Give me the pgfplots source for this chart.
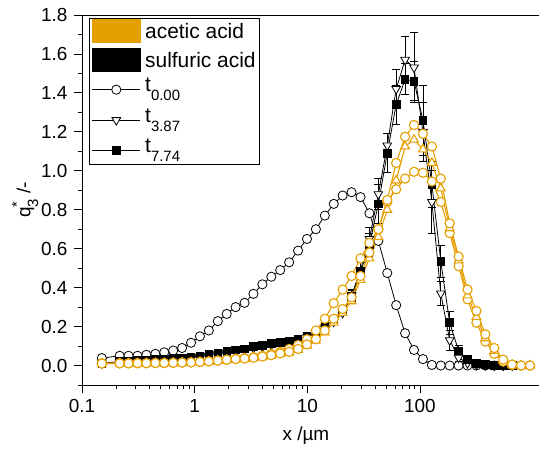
\documentclass[border=0pt]{standalone}
\usepackage{fontspec}
\setmainfont{Liberation Sans}
\usepackage{pgfplots}
\usepackage{pgfplotstable}
\pgfplotsset{compat=1.18}
\definecolor{acet}{RGB}{230,159,0}
\newcommand{\sub}[1]{\raisebox{-0.42em}{\fontsize{15}{15}\selectfont #1}}
\pgfplotsset{myerr/.style={error bars/y dir=both, error bars/y explicit,
 error bars/error bar style={line width=0.8bp},
 error bars/error mark options={rotate=90, mark size=4bp, line width=0.8bp}}}
\pgfplotstableread{
x y
0.150 0.038
0.216 0.050
0.259 0.050
0.311 0.050
0.373 0.055
0.448 0.060
0.537 0.068
0.645 0.077
0.774 0.090
0.929 0.117
1.114 0.150
1.337 0.180
1.605 0.228
1.926 0.265
2.311 0.300
2.773 0.322
3.328 0.368
3.993 0.417
4.792 0.456
5.750 0.490
6.900 0.530
8.280 0.590
9.936 0.650
11.92 0.700
14.31 0.770
17.17 0.830
20.60 0.873
24.72 0.890
29.67 0.865
35.60 0.782
42.72 0.640
51.27 0.475
61.52 0.310
73.82 0.166
88.59 0.080
106.3 0.033
127.6 0.003
153.1 0.000
183.7 0.000
220.4 0.000
264.5 0.000
317.4 0.000
380.9 0.000
457.1 0.000
548.5 0.000
}\Szero
\pgfplotstableread{
x y
0.150 0.012
0.216 0.012
0.259 0.012
0.311 0.012
0.373 0.012
0.448 0.013
0.537 0.013
0.645 0.014
0.774 0.015
0.929 0.017
1.114 0.019
1.337 0.022
1.605 0.026
1.926 0.030
2.311 0.034
2.773 0.038
3.328 0.043
3.993 0.050
4.792 0.060
5.750 0.070
6.900 0.085
8.280 0.105
9.936 0.135
11.92 0.180
14.31 0.240
17.17 0.320
20.60 0.390
24.72 0.460
29.67 0.550
35.60 0.630
42.72 0.700
51.27 0.840
61.52 0.905
73.82 0.960
88.59 0.995
106.3 0.990
127.6 0.945
153.1 0.840
183.7 0.680
220.4 0.510
264.5 0.340
317.4 0.220
380.9 0.123
457.1 0.060
548.5 0.020
658.2 0.003
789.8 0.000
947.8 0.000
}\Azero
\pgfplotstableread{
x y
0.150 0.010
0.216 0.011
0.259 0.011
0.311 0.011
0.373 0.012
0.448 0.012
0.537 0.013
0.645 0.014
0.774 0.015
0.929 0.016
1.114 0.018
1.337 0.020
1.605 0.024
1.926 0.028
2.311 0.032
2.773 0.035
3.328 0.038
3.993 0.044
4.792 0.050
5.750 0.060
6.900 0.067
8.280 0.080
9.936 0.103
11.92 0.128
14.31 0.170
17.17 0.220
20.60 0.270
24.72 0.330
29.67 0.440
35.60 0.550
42.72 0.660
51.27 0.800
61.52 0.950
73.82 1.125
88.59 1.160
106.3 1.110
127.6 1.040
153.1 0.910
183.7 0.705
220.4 0.540
264.5 0.360
317.4 0.250
380.9 0.140
457.1 0.075
548.5 0.025
658.2 0.003
789.8 0.000
947.8 0.000
}\Athree
\pgfplotstableread{
x y
0.150 0.010
0.216 0.011
0.259 0.011
0.311 0.012
0.373 0.012
0.448 0.013
0.537 0.013
0.645 0.014
0.774 0.015
0.929 0.016
1.114 0.018
1.337 0.021
1.605 0.025
1.926 0.030
2.311 0.033
2.773 0.036
3.328 0.040
3.993 0.046
4.792 0.053
5.750 0.062
6.900 0.070
8.280 0.085
9.936 0.108
11.92 0.135
14.31 0.180
17.17 0.240
20.60 0.290
24.72 0.350
29.67 0.460
35.60 0.580
42.72 0.700
51.27 0.850
61.52 1.040
73.82 1.175
88.59 1.235
106.3 1.190
127.6 1.125
153.1 0.960
183.7 0.730
220.4 0.560
264.5 0.390
317.4 0.280
380.9 0.160
457.1 0.090
548.5 0.030
658.2 0.005
789.8 0.000
947.8 0.000
}\Aseven
\begin{document}
\fontsize{19}{22}\selectfont
\begin{tikzpicture}
\begin{axis}[
 scale only axis, width=457bp, height=370bp,
 xmode=log, xmin=0.1, xmax=1140, ymin=-0.1, ymax=1.8,
 axis x line*=bottom, axis y line*=left,
 axis line style={-, line width=0.8bp},
 tick align=outside, major tick length=8bp, minor tick length=4bp,
 every tick/.style={black, line width=0.8bp},
 xtick={0.1,1,10,100}, xticklabels={0.1,1,10,100},
 ytick={0,0.2,0.4,0.6,0.8,1.0,1.2,1.4,1.6,1.8},
 yticklabels={0.0,0.2,0.4,0.6,0.8,1.0,1.2,1.4,1.6,1.8},
 minor ytick={-0.1,0.1,0.3,0.5,0.7,0.9,1.1,1.3,1.5,1.7},
 tick label style={font=\fontsize{19}{22}\selectfont},
 xlabel={x /µm}, ylabel={q\rlap{\raisebox{0.45em}{\fontsize{14.5}{15}\selectfont *}}\sub{3} /-},
 label style={font=\fontsize{20}{22}\selectfont},
 every axis x label/.style={at={(axis description cs:0.49,0)}, anchor=center, yshift=-51bp},
 every axis y label/.style={at={(axis description cs:-0.1245,0.5)}, anchor=center, rotate=90},
 clip=false,
 legend style={at={(axis description cs:0.0153,0.992)}, anchor=north west,
   draw=black, line width=0.8bp, inner xsep=2.5bp, inner ysep=1bp,
   font=\fontsize{21}{22}\selectfont, row sep=5bp,
   nodes={inner sep=1.5bp, text depth=}, cells={anchor=west}},
]
\draw[line width=0.8bp] (rel axis cs:0,1) -- (rel axis cs:1,1);
% legend entries
\addlegendimage{legend image code/.code={\fill[acet] (0bp,-11.5bp) rectangle (48bp,11.5bp);}}
\addlegendentry{\hspace{3bp}acetic acid}
\addlegendimage{legend image code/.code={\fill[black] (0bp,-11.5bp) rectangle (48bp,11.5bp);}}
\addlegendentry{\hspace{3bp}sulfuric acid}
\addlegendimage{black, line width=0.8bp, mark=*, mark size=4.6bp, mark options={fill=white},
  legend image code/.code={\draw[mark repeat=2,mark phase=2] plot coordinates {(0bp,0bp)(24bp,0bp)(48bp,0bp)};}}
\addlegendentry{\hspace{3bp}t\sub{0.00}}
\addlegendimage{black, line width=0.8bp, mark=triangle*, mark size=5bp, mark options={fill=white, rotate=180},
  legend image code/.code={\draw[mark repeat=2,mark phase=2] plot coordinates {(0bp,0bp)(24bp,0bp)(48bp,0bp)};}}
\addlegendentry{\hspace{3bp}t\sub{3.87}}
\addlegendimage{black, line width=0.8bp, mark=square*, mark size=3.8bp, mark options={fill=black},
  legend image code/.code={\draw[mark repeat=2,mark phase=2] plot coordinates {(0bp,0bp)(24bp,0bp)(48bp,0bp)};}}
\addlegendentry{\hspace{3bp}t\sub{7.74}}

% sulfuric acid t0
\addplot[black, line width=0.8bp, mark=*, mark size=4.6bp, mark options={fill=white}, forget plot] table[x=x,y=y] {\Szero};
% sulfuric acid t3.87
\addplot[black, line width=0.8bp, mark=triangle*, mark size=5bp, mark options={fill=white, rotate=180}, myerr, forget plot] coordinates {
(0.150,0.010) +- (0,0.012)
(0.216,0.015) +- (0,0.012)
(0.259,0.018) +- (0,0.012)
(0.311,0.020) +- (0,0.012)
(0.373,0.022) +- (0,0.012)
(0.448,0.025) +- (0,0.012)
(0.537,0.028) +- (0,0.012)
(0.645,0.030) +- (0,0.012)
(0.774,0.035) +- (0,0.012)
(0.929,0.040) +- (0,0.012)
(1.114,0.045) +- (0,0.012)
(1.337,0.050) +- (0,0.012)
(1.605,0.058) +- (0,0.012)
(1.926,0.066) +- (0,0.012)
(2.311,0.074) +- (0,0.012)
(2.773,0.080) +- (0,0.012)
(3.328,0.090) +- (0,0.012)
(3.993,0.097) +- (0,0.012)
(4.792,0.107) +- (0,0.012)
(5.750,0.113) +- (0,0.015)
(6.900,0.120) +- (0,0.015)
(8.280,0.130) +- (0,0.015)
(9.936,0.145) +- (0,0.015)
(11.92,0.165) +- (0,0.015)
(14.31,0.190) +- (0,0.015)
(17.17,0.225) +- (0,0.015)
(20.60,0.270) +- (0,0.015)
(24.72,0.360) +- (0,0.03)
(29.67,0.490) +- (0,0.04)
(35.60,0.650) +- (0,0.06)
(42.72,0.880) +- (0,0.08)
(51.27,1.130) +- (0,0.06)
(61.52,1.420) +- (0,0.10)
(73.82,1.570) +- (0,0.12)
(88.59,1.530) +- (0,0.18)
(106.3,1.200) +- (0,0.15)
(127.6,0.840) +- (0,0.16)
(153.1,0.370) +- (0,0.06)
(183.7,0.130) +- (0,0.05)
(220.4,0.040) +- (0,0.02)
(264.5,0.012) +- (0,0.005)
(317.4,0.005) +- (0,0.005)
(380.9,0.002) +- (0,0.005)
(457.1,0.000) +- (0,0.005)
(548.5,0.000) +- (0,0.005)
(658.2,0.000) +- (0,0.005)
};
% sulfuric acid t7.74
\addplot[black, line width=0.8bp, mark=square*, mark size=3.8bp, mark options={fill=black}, myerr, forget plot] coordinates {
(0.150,0.012) +- (0,0.015)
(0.216,0.020) +- (0,0.015)
(0.259,0.022) +- (0,0.015)
(0.311,0.025) +- (0,0.015)
(0.373,0.027) +- (0,0.015)
(0.448,0.030) +- (0,0.015)
(0.537,0.032) +- (0,0.015)
(0.645,0.036) +- (0,0.015)
(0.774,0.040) +- (0,0.015)
(0.929,0.045) +- (0,0.015)
(1.114,0.050) +- (0,0.015)
(1.337,0.056) +- (0,0.015)
(1.605,0.064) +- (0,0.015)
(1.926,0.072) +- (0,0.015)
(2.311,0.080) +- (0,0.015)
(2.773,0.086) +- (0,0.015)
(3.328,0.097) +- (0,0.015)
(3.993,0.103) +- (0,0.015)
(4.792,0.113) +- (0,0.015)
(5.750,0.120) +- (0,0.018)
(6.900,0.127) +- (0,0.018)
(8.280,0.135) +- (0,0.018)
(9.936,0.150) +- (0,0.018)
(11.92,0.175) +- (0,0.018)
(14.31,0.200) +- (0,0.018)
(17.17,0.235) +- (0,0.018)
(20.60,0.277) +- (0,0.018)
(24.72,0.354) +- (0,0.03)
(29.67,0.480) +- (0,0.05)
(35.60,0.620) +- (0,0.06)
(42.72,0.830) +- (0,0.10)
(51.27,1.090) +- (0,0.10)
(61.52,1.340) +- (0,0.10)
(73.82,1.470) +- (0,0.08)
(88.59,1.460) +- (0,0.10)
(106.3,1.260) +- (0,0.18)
(127.6,0.930) +- (0,0.12)
(153.1,0.535) +- (0,0.08)
(183.7,0.220) +- (0,0.06)
(220.4,0.075) +- (0,0.03)
(264.5,0.030) +- (0,0.015)
(317.4,0.012) +- (0,0.005)
(380.9,0.005) +- (0,0.005)
(457.1,0.002) +- (0,0.005)
(548.5,0.000) +- (0,0.005)
(658.2,0.000) +- (0,0.005)
};
% acetic acid t0
\addplot[acet, line width=1.1bp, mark=*, mark size=4.6bp, mark options={fill=white}, forget plot] table[x=x,y=y] {\Azero};
% acetic acid t3.87
\addplot[acet, line width=1.1bp, mark=triangle*, mark size=5bp, mark options={fill=white}, forget plot] table[x=x,y=y] {\Athree};
% acetic acid t7.74
\addplot[acet, line width=1.1bp, mark=*, mark size=4.6bp, mark options={fill=white}, forget plot] table[x=x,y=y] {\Aseven};
\end{axis}
\pgfresetboundingbox
\path ([shift={(-82bp,-68bp)}]current axis.south west) rectangle ([shift={(0bp,15bp)}]current axis.north east);
\end{tikzpicture}
\end{document}
